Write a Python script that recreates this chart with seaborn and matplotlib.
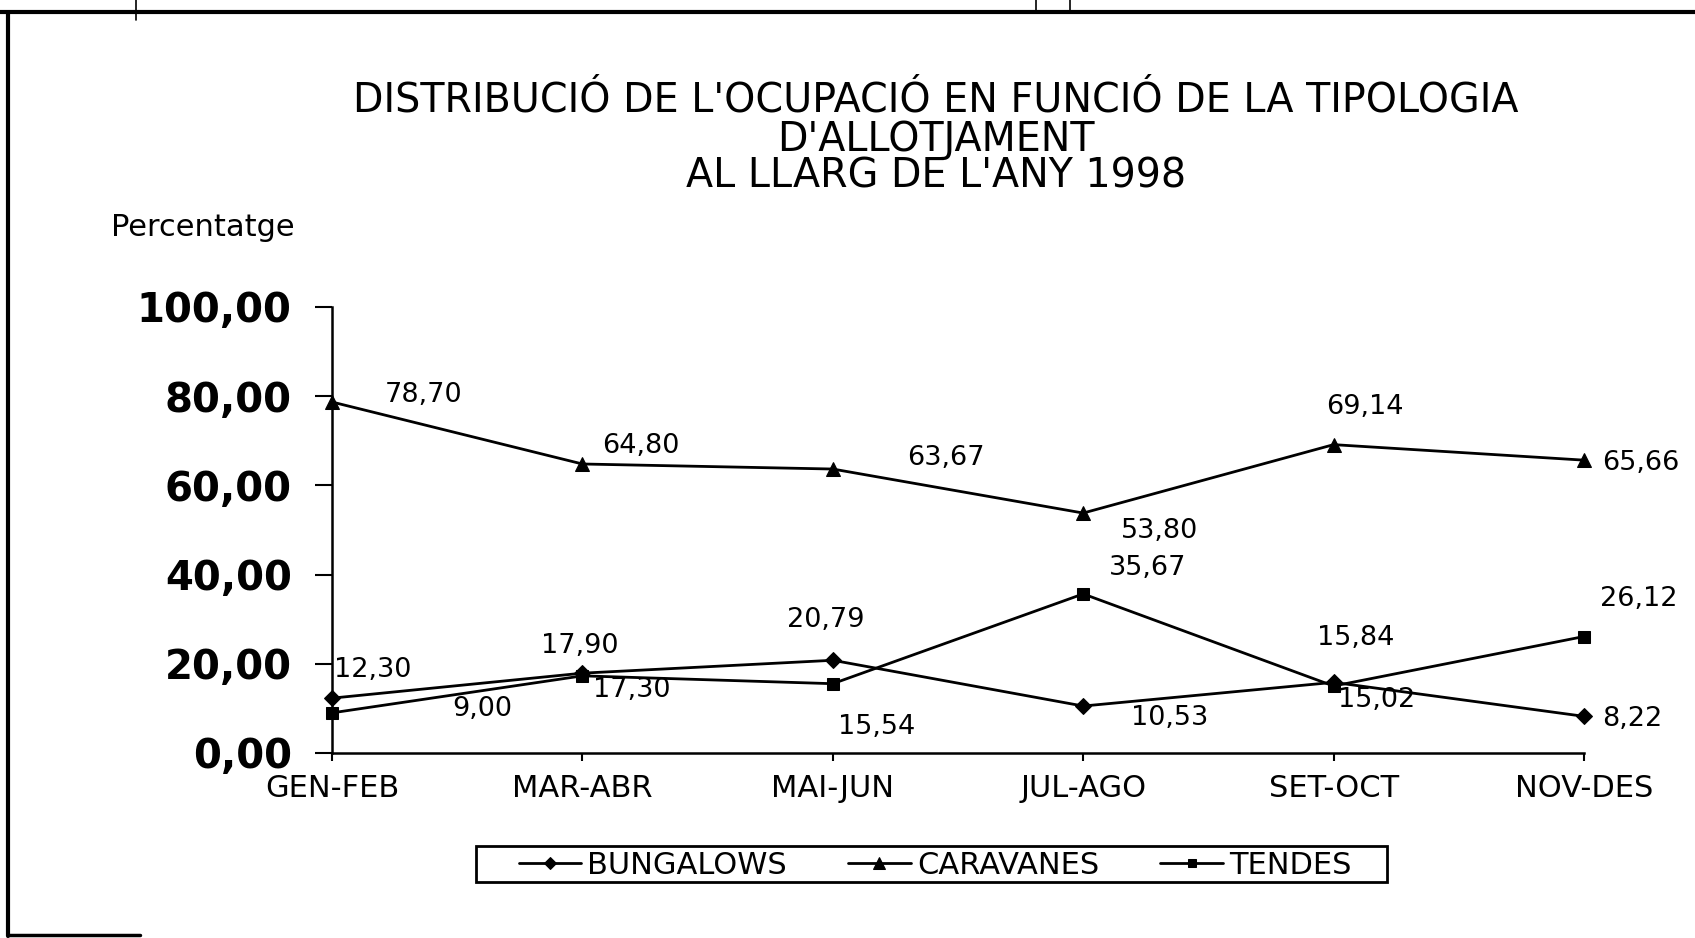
import numpy as np
import pandas as pd
import matplotlib
matplotlib.use("Agg")
import matplotlib.pyplot as plt
from matplotlib.lines import Line2D
from matplotlib.patches import Rectangle
from matplotlib.ticker import FuncFormatter
import seaborn as sns

# Two-month periods of 1998
periodes = ["GEN-FEB", "MAR-ABR", "MAI-JUN", "JUL-AGO", "SET-OCT", "NOV-DES"]

# Occupancy share (%) by accommodation type
bungalows = [12.30, 17.90, 20.79, 10.53, 15.84, 8.22]
caravanes = [78.70, 64.80, 63.67, 53.80, 69.14, 65.66]
tendes = [9.00, 17.30, 15.54, 35.67, 15.02, 26.12]

y_ticks = [0, 20, 40, 60, 80, 100]

titol = ["DISTRIBUCIÓ DE L'OCUPACIÓ EN FUNCIÓ DE LA TIPOLOGIA",
         "D'ALLOTJAMENT",
         "AL LLARG DE L'ANY 1998"]

sns.set_theme(style="white")
plt.rcParams["font.family"] = ["DejaVu Sans"]
for key in ["text.color", "axes.labelcolor", "xtick.color", "ytick.color"]:
    plt.rcParams[key] = "black"

W, H = 1695, 938
fig = plt.figure(figsize=(W / 100, H / 100), dpi=100)
fig.patch.set_facecolor("white")

# axes placed in pixel terms
x0, x1, y_top, y_bot = 332, 1584, 307, 753
ax = fig.add_axes([x0 / W, 1 - y_bot / H, (x1 - x0) / W, (y_bot - y_top) / H])
ax.set_facecolor("white")

series = [("BUNGALOWS", bungalows, "D", 8),
          ("CARAVANES", caravanes, "^", 10),
          ("TENDES", tendes, "s", 8)]

for name, vals, mk, ms in series:
    df = pd.DataFrame({"periode": periodes, "valor": vals})
    sns.lineplot(data=df, x="periode", y="valor", ax=ax, color="black",
                 linewidth=2.0, marker=mk, markersize=ms, markeredgecolor="black",
                 label=name, clip_on=False, sort=False)

ax.set_xlim(0, 5)
ax.set_ylim(0, 100)
ax.set_yticks(y_ticks)
ax.yaxis.set_major_formatter(FuncFormatter(lambda v, p: f"{v:.2f}".replace(".", ",")))
ax.set_xlabel("")
ax.set_ylabel("")

for s in ["top", "right"]:
    ax.spines[s].set_visible(False)
for s in ["left", "bottom"]:
    ax.spines[s].set_color("black")
    ax.spines[s].set_linewidth(1.8)

ax.tick_params(axis="y", direction="out", length=12, width=1.5, color="black",
               pad=17, labelsize=29, left=True, labelcolor="black")
ax.tick_params(axis="x", direction="out", length=6, width=1.5, color="black",
               pad=9, labelsize=22, bottom=True, labelcolor="black")
for lbl in ax.get_yticklabels():
    lbl.set_fontweight("bold")

# data labels, offsets in pixels from each point
fmt = lambda v: f"{v:.2f}".replace(".", ",")
off_b = [(41, 28), (-3, 27), (-7, 40), (86, -12), (22, 44), (48, -3)]
off_c = [(92, 7), (58, 18), (113, 11), (76, -18), (31, 38), (57, -3)]
off_t = [(150, 4), (49, -14), (44, -43), (64, 26), (43, -14), (55, 38)]
for vals, offs in [(bungalows, off_b), (caravanes, off_c), (tendes, off_t)]:
    for i, (v, o) in enumerate(zip(vals, offs)):
        ax.annotate(fmt(v), xy=(i, v), xytext=o, textcoords="offset pixels",
                    ha="center", va="center", fontsize=19.5, color="black",
                    annotation_clip=False)

# legend entries, boxed by a separate frame
leg = ax.legend(loc="center", bbox_to_anchor=(935 / W, 1 - 865 / H),
                bbox_transform=fig.transFigure, ncol=3, fontsize=22,
                frameon=False, handlelength=2.05, columnspacing=2.0,
                handletextpad=0.2, borderpad=0.0, markerscale=0.8)
for t in leg.get_texts():
    t.set_color("black")
fig.add_artist(Rectangle((476 / W, 1 - 882 / H), (1387 - 476) / W, 36 / H,
                         transform=fig.transFigure, fill=False,
                         edgecolor="black", linewidth=2.0))

# title and axis caption
for txt, yy in zip(titol, [101, 140, 177]):
    fig.text(936 / W, 1 - yy / H, txt, ha="center", va="center", fontsize=28.5,
             color="black")
fig.text(111 / W, 1 - 227 / H, "Percentatge", ha="left", va="center",
         fontsize=22, color="black")

# outer frame of the sheet
frame = [([0, W], [12, 12], 3.0), ([8, 8], [12, 936], 3.0), ([8, 140], [935, 935], 2.5),
         ([136, 136], [0, 20], 1.2), ([1036, 1036], [0, 12], 1.2), ([1070, 1070], [0, 12], 1.2)]
for xs, ys, lw in frame:
    fig.add_artist(Line2D([x / W for x in xs], [1 - y / H for y in ys],
                          transform=fig.transFigure, color="black", linewidth=lw))

fig.savefig("out.png", dpi=100, facecolor="white")
